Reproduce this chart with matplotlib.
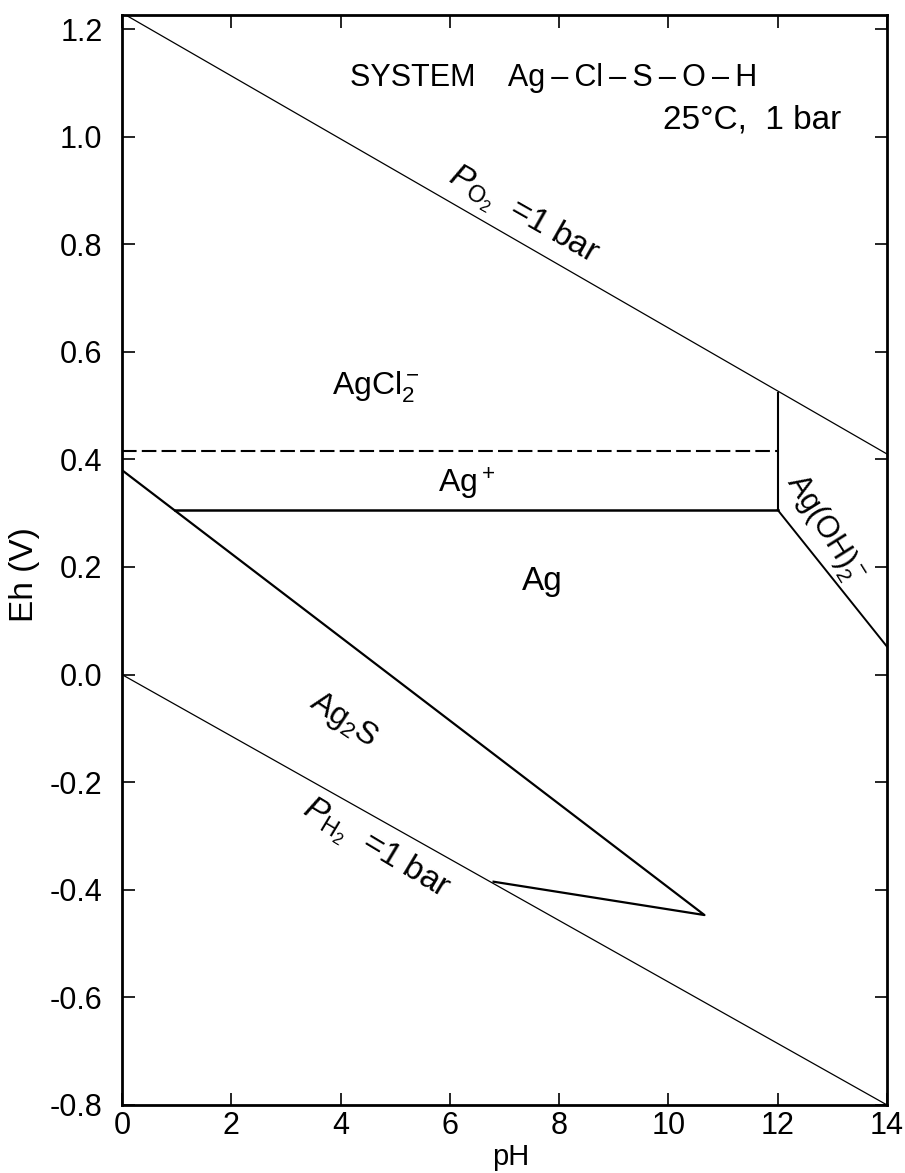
import matplotlib
matplotlib.use("Agg")
import matplotlib.pyplot as plt

plt.rcParams['font.family'] = ['Liberation Sans', 'DejaVu Sans']
plt.rcParams['mathtext.fontset'] = 'custom'
plt.rcParams['mathtext.rm'] = 'Liberation Sans'
plt.rcParams['mathtext.it'] = 'Liberation Sans:italic'
plt.rcParams['mathtext.bf'] = 'Liberation Sans:bold'

# water stability limits
o2_ph = [0, 14]
o2_eh = [1.23, 0.41]
h2_ph = [0, 14]
h2_eh = [0.0, -0.80]

# AgCl2- / Ag+ boundary (dashed)
agcl_ph = [0, 12]
agcl_eh = [0.415, 0.415]

# Ag+ / Ag(OH)2- vertical boundary
agoh_v_ph = [12, 12]
agoh_v_eh = [0.523, 0.306]

# Ag+ / Ag boundary
agp_ph = [0.97, 12]
agp_eh = [0.306, 0.306]

# Ag / Ag(OH)2- boundary
agoh_ph = [12, 14]
agoh_eh = [0.306, 0.052]

# Ag2S field outline
ag2s_ph = [0, 10.66, 6.8]
ag2s_eh = [0.38, -0.447, -0.385]

xticks = [0, 2, 4, 6, 8, 10, 12, 14]
yticks = [-0.8, -0.6, -0.4, -0.2, 0.0, 0.2, 0.4, 0.6, 0.8, 1.0, 1.2]

fig = plt.figure(figsize=(9.05, 11.73), dpi=100)
ax = fig.add_axes([0.1348, 0.0580, 0.8453, 0.9292])

ax.plot(o2_ph, o2_eh, color='black', lw=0.9)
ax.plot(h2_ph, h2_eh, color='black', lw=0.9)
ax.plot(agcl_ph, agcl_eh, color='black', lw=1.5, linestyle=(0, (7, 2.5)))
ax.plot(agoh_v_ph, agoh_v_eh, color='black', lw=1.5)
ax.plot(agp_ph, agp_eh, color='black', lw=1.8)
ax.plot(agoh_ph, agoh_eh, color='black', lw=1.4)
ax.plot(ag2s_ph, ag2s_eh, color='black', lw=1.6)

ax.set_xlim(0, 14)
ax.set_ylim(-0.8, 1.226)
ax.set_xticks(xticks)
ax.set_yticks(yticks)
ax.set_yticklabels(['%.1f' % v if v >= 0 else '-%.1f' % abs(v) for v in yticks])
ax.tick_params(direction='in', top=True, right=True, length=9, width=1.2,
               labelsize=22)
ax.tick_params(axis='y', pad=14)
ax.tick_params(axis='x', pad=4)
for s in ax.spines.values():
    s.set_linewidth(2)

ax.set_xlabel('pH', fontsize=21)
ax.xaxis.label.set_va('baseline')
ax.set_ylabel('Eh (V)', fontsize=24)
ax.xaxis.set_label_coords(0.5085, -0.0555)
ax.yaxis.set_label_coords(-0.107, 0.487)

fs = 23
ts = '\u2009'
ax.text(4.18, 1.108, 'SYSTEM    Ag' + ts + '\u2013' + ts + 'Cl' + ts + '\u2013' + ts + 'S'
        + ts + '\u2013' + ts + 'O' + ts + '\u2013' + ts + 'H', fontsize=22,
        ha='left', va='center')
ax.text(13.17, 1.03, '25\u00b0C,  1 bar', fontsize=24, ha='right', va='center')
ax.text(7.34, 0.853, r'$P_{\mathrm{O_2}}$  =1 bar', fontsize=24, ha='center',
        va='center', rotation=-29.6)
ax.text(4.64, -0.325, r'$P_{\mathrm{H_2}}$  =1 bar', fontsize=24, ha='center',
        va='center', rotation=-31)
ax.text(4.64, 0.534, r'AgCl$_2^-$', fontsize=fs, ha='center', va='center')
ax.text(6.3, 0.354, r'Ag$^+$', fontsize=fs, ha='center', va='center')
ax.text(7.7, 0.173, 'Ag', fontsize=24, ha='center', va='center')
ax.text(4.04, -0.085, r'Ag$_2$S', fontsize=fs, ha='center', va='center',
        rotation=-34)
ax.text(12.84, 0.271, r'Ag(OH)$_2^-$', fontsize=22, ha='center', va='center',
        rotation=-58)

fig.savefig('out.png', dpi=100)
